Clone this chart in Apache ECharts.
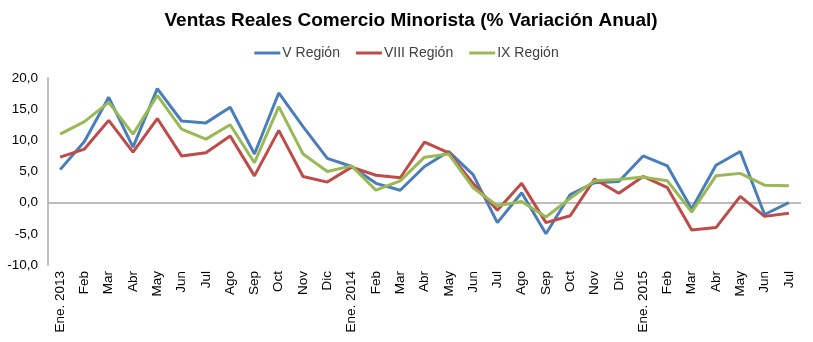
<!DOCTYPE html>
<html>
<head>
<meta charset="utf-8">
<script src="https://cdn.jsdelivr.net/npm/echarts@6/dist/echarts.min.js"></script>
<style>
  html, body { margin: 0; padding: 0; background: #fff; }
  #chart { width: 813px; height: 342px; }
</style>
</head>
<body>
<div id="chart"></div>
<script>
// Meses (ene. 2013 – jul. 2015)
const months = ['Ene. 2013','Feb','Mar','Abr','May','Jun','Jul','Ago','Sep','Oct','Nov','Dic',
                'Ene. 2014','Feb','Mar','Abr','May','Jun','Jul','Ago','Sep','Oct','Nov','Dic',
                'Ene. 2015','Feb','Mar','Abr','May','Jun','Jul'];

// Variación anual (%) de ventas reales por región
const regionV    = [5.3, 9.8, 16.9, 8.9, 18.3, 13.1, 12.8, 15.3, 7.8, 17.6, 12.2, 7.1,
                    5.8, 3.1, 2.0, 5.8, 8.2, 4.5, -3.2, 1.6, -5.0, 1.3, 3.2, 3.4,
                    7.5, 5.9, -1.0, 6.0, 8.2, -1.9, 0.0];
const regionVIII = [7.3, 8.6, 13.2, 8.1, 13.5, 7.5, 8.0, 10.7, 4.3, 11.6, 4.2, 3.3,
                    5.7, 4.4, 4.0, 9.7, 8.0, 3.1, -1.2, 3.1, -3.2, -2.1, 3.8, 1.5,
                    4.2, 2.4, -4.4, -4.0, 1.0, -2.2, -1.7];
const regionIX   = [11.0, 13.0, 16.1, 11.0, 17.2, 11.8, 10.2, 12.5, 6.4, 15.4, 7.8, 5.0,
                    5.9, 2.0, 3.5, 7.3, 7.8, 2.4, -0.5, 0.2, -2.3, 0.7, 3.5, 3.7,
                    4.1, 3.5, -1.5, 4.3, 4.7, 2.8, 2.7];

const seriesNames = ['V Región', 'VIII Región', 'IX Región'];
const colors = ['#4a7ebb', '#be4b48', '#98b954'];

const chart = echarts.init(document.getElementById('chart'), null, { renderer: 'canvas' });

function lineSeries(name, data, color, withZero) {
  const s = {
    name: name,
    type: 'line',
    data: data,
    symbol: 'none',
    smooth: false,
    lineStyle: { width: 3, color: color },
    itemStyle: { color: color },
    z: 3
  };
  if (withZero) {
    // línea de referencia en 0 %
    s.markLine = {
      silent: true,
      symbol: 'none',
      label: { show: false },
      lineStyle: { color: '#a6a6a6', width: 1.5, type: 'solid' },
      data: [{ yAxis: 0 }],
      z: 1
    };
  }
  return s;
}

chart.setOption({
  animation: false,
  backgroundColor: '#ffffff',
  title: {
    text: 'Ventas Reales Comercio Minorista (% Variación Anual)',
    left: 406,
    textAlign: 'center',
    top: 6,
    textStyle: { fontFamily: 'Liberation Sans, Arial', fontSize: 19, fontWeight: 'bold', color: '#000' }
  },
  legend: {
    data: seriesNames,
    top: 41,
    left: 'center',
    icon: 'rect',
    itemWidth: 26,
    itemHeight: 3,
    itemGap: 16,
    textStyle: { fontFamily: 'Liberation Sans, Arial', fontSize: 14, color: '#404040', padding: [0, 0, 0, -3] }
  },
  grid: { left: 48, right: 12, top: 78, bottom: 77, containLabel: false },
  xAxis: {
    type: 'category',
    data: months,
    boundaryGap: true,
    axisLine: { show: false },
    axisTick: { show: false },
    axisLabel: {
      rotate: 90,
      interval: 0,
      margin: 6,
      fontFamily: 'Liberation Sans, Arial',
      fontSize: 13.5,
      color: '#000'
    },
    splitLine: { show: false }
  },
  yAxis: {
    type: 'value',
    min: -10,
    max: 20,
    interval: 5,
    axisLine: { show: true, lineStyle: { color: '#bfbfbf', width: 2 } },
    axisTick: { show: false },
    splitLine: { show: false },
    axisLabel: {
      margin: 10,
      fontFamily: 'Liberation Sans, Arial',
      fontSize: 13.5,
      color: '#000',
      formatter: v => v.toFixed(1).replace('.', ',')
    }
  },
  series: [
    lineSeries(seriesNames[0], regionV, colors[0], true),
    lineSeries(seriesNames[1], regionVIII, colors[1], false),
    lineSeries(seriesNames[2], regionIX, colors[2], false)
  ]
});
</script>
</body>
</html>
